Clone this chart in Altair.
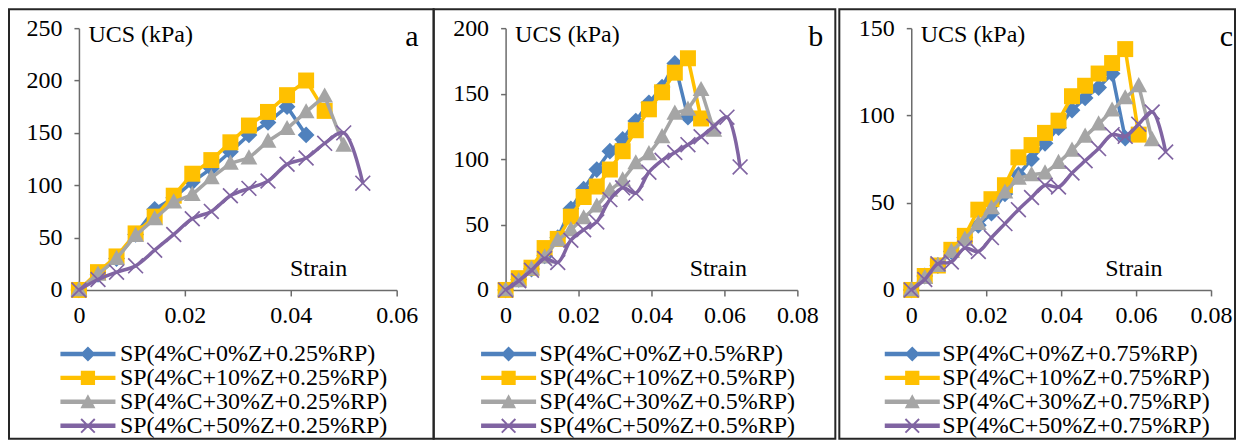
import json
import altair as alt
import pandas as pd

FONT = "Liberation Serif"
COLORS = ["#4F81BD", "#FFC000", "#A5A5A5", "#8064A2"]
MARKERS = ["diamond", "square", "triangle", "cross"]
AXIS_COLOR = "#6b6b6b"

# shared strain steps (x values)
STRAIN = [0, 0.0036, 0.0071, 0.0107, 0.0143, 0.0179, 0.0214, 0.025, 0.0286, 0.0321,
          0.0357, 0.0393, 0.0429, 0.0464, 0.05, 0.0536, 0.0571, 0.0607, 0.0643, 0.0679]

# panel a (0.25 % RP)
A_LABELS = ["SP(4%C+0%Z+0.25%RP)", "SP(4%C+10%Z+0.25%RP)",
            "SP(4%C+30%Z+0.25%RP)", "SP(4%C+50%Z+0.25%RP)"]
A_BLUE = [0, 15, 30, 53, 77, 88, 103, 116, 132, 148, 160, 175, 148]
A_YELLOW = [0, 17, 32, 54, 70, 90, 111, 124, 141, 157, 170, 186, 200, 171]
A_GRAY = [0, 15, 30, 52, 68, 84, 91, 107, 121, 126, 142, 154, 170, 185, 138]
A_PURPLE = [0, 10, 17, 23, 38, 53, 68, 75, 90, 97, 104, 120, 126, 140, 150, 102]

# panel b (0.5 % RP)
B_LABELS = ["SP(4%C+0%Z+0.5%RP)", "SP(4%C+10%Z+0.5%RP)",
            "SP(4%C+30%Z+0.5%RP)", "SP(4%C+50%Z+0.5%RP)"]
B_BLUE = [0, 8, 16, 26, 40, 62, 77, 92, 106, 115, 129, 143, 155, 173, 132]
B_YELLOW = [0, 9, 17, 32, 39, 56, 71, 79, 92, 106, 122, 138, 151, 166, 177, 131]
B_GRAY = [0, 7, 16, 25, 38, 46, 55, 64, 76, 84, 97, 104, 117, 135, 138, 153, 122]
B_PURPLE = [0, 7, 15, 24, 21, 38, 46, 52, 69, 78, 74, 90, 99, 105, 111, 117, 125, 132, 94]

# panel c (0.75 % RP)
C_LABELS = ["SP(4%C+0%Z+0.75%RP)", "SP(4%C+10%Z+0.75%RP)",
            "SP(4%C+30%Z+0.75%RP)", "SP(4%C+50%Z+0.75%RP)"]
C_BLUE = [0, 8, 14, 22, 30, 37, 44, 55, 66, 75, 84, 93, 103, 110, 116, 124, 87]
C_YELLOW = [0, 8, 14, 23, 31, 46, 52, 60, 76, 83, 90, 97, 111, 117, 124, 130, 138, 89]
C_GRAY = [0, 7, 14, 22, 29, 38, 47, 56, 64, 66, 67, 73, 80, 88, 95, 103, 110, 117, 86]
C_PURPLE = [0, 6, 15, 16, 24, 22, 30, 38, 46, 53, 60, 59, 67, 74, 81, 89, 88, 95, 102, 79]

# marker shapes (plot)
PT_PATHS = [
    "M-1.05,0L0,-1.05L1.05,0L0,1.05Z",
    "M-1,-1L1,-1L1,1L-1,1Z",
    "M0,-1.1L1.05,0.8L-1.05,0.8Z",
    "M-1,-0.85L-0.85,-1L1,0.85L0.85,1Z M-1,0.85L0.85,-1L1,-0.85L-0.85,1Z",
]
# legend symbols: line + marker
LG_PATHS = [
    "M-3.67,-0.3L-0.7,-0.3L0,-1L0.7,-0.3L3.67,-0.3L3.67,0.3L0.7,0.3L0,1L-0.7,0.3L-3.67,0.3Z",
    "M-3.67,-0.3L-0.95,-0.3L-0.95,-0.95L0.95,-0.95L0.95,-0.3L3.67,-0.3L3.67,0.3L0.95,0.3L0.95,0.95L-0.95,0.95L-0.95,0.3L-3.67,0.3Z",
    "M-3.67,-0.3L-0.378,-0.3L0,-1L0.378,-0.3L3.67,-0.3L3.67,0.3L0.703,0.3L1,0.85L-1,0.85L-0.703,0.3L-3.67,0.3Z",
    "M-3.67,-0.3L3.67,-0.3L3.67,0.3L-3.67,0.3Z M-1,-0.82L-0.82,-1L1,0.82L0.82,1Z M-1,0.82L0.82,-1L1,-0.82L-0.82,1Z",
]

H = 430


def panel(labels, series, width, xdom, xticks, xrange, ydom, yticks, letter, letter_x,
          strain_x, legend_x, label_off):
    rows = []
    for lab, mk, vals in zip(labels, MARKERS, series):
        for i, v in enumerate(vals):
            rows.append({"strain": STRAIN[i], "ucs": v, "series": lab, "marker": mk})
    df = pd.DataFrame(rows)
    base = alt.Chart(df)

    lab_js = json.dumps(labels)
    sig_shape = json.dumps(LG_PATHS) + "[indexof(" + lab_js + ", datum.value)]"

    legend = alt.Legend(
        title=None, orient="none", legendX=legend_x, legendY=333, direction="vertical",
        symbolSize=225, symbolOffset=0, labelOffset=label_off, labelFont=FONT,
        labelFontSize=24, labelColor="black", labelLimit=600, rowPadding=0, padding=0,
        symbolType={"expr": sig_shape}, symbolStrokeWidth=0, symbolOpacity=1,
    )
    x_axis = alt.Axis(
        values=xticks, format="~g", offset=-(H - 281), grid=False,
        domainColor=AXIS_COLOR, tickColor=AXIS_COLOR, domainWidth=1.5, tickWidth=1.5,
        tickSize=6, labelFont=FONT, labelFontSize=24, labelColor="black",
        labelPadding=8, labelFlush=False, labelOverlap=False,
        title="Strain", titleFont=FONT, titleFontSize=24, titleFontWeight="normal",
        titleColor="black", titleX=strain_x, titleY=-21, titleAlign="right",
        titleBaseline="middle",
    )
    y_axis = alt.Axis(
        values=yticks, offset=-xrange[0], grid=False,
        domainColor=AXIS_COLOR, tickColor=AXIS_COLOR, domainWidth=1.5, tickWidth=1.5,
        tickSize=5, labelFont=FONT, labelFontSize=24, labelColor="black",
        labelPadding=12, labelFlush=False, labelOverlap=False,
        title="UCS (kPa)", titleFont=FONT, titleFontSize=24, titleFontWeight="normal",
        titleColor="black", titleAngle=0, titleX=9, titleY=25, titleAlign="left",
        titleBaseline="middle",
    )
    xenc = alt.X("strain:Q", axis=x_axis,
                 scale=alt.Scale(domain=xdom, range=xrange, nice=False, zero=False))
    yenc = alt.Y("ucs:Q", axis=y_axis,
                 scale=alt.Scale(domain=ydom, range=[281, 281 - 262], nice=False, zero=False))
    color = alt.Color("series:N", scale=alt.Scale(domain=labels, range=COLORS), legend=legend)
    shape = alt.Shape("marker:N", scale=alt.Scale(domain=MARKERS, range=PT_PATHS), legend=None)

    layers = []
    for k, lab in enumerate(labels):
        f = base.transform_filter(alt.datum.series == lab)
        line = f.mark_line(strokeWidth=3.5,
                           interpolate="catmull-rom" if k == 3 else "linear").encode(
            x=xenc, y=yenc, color=color)
        pts = f.mark_point(filled=True, size=256, opacity=1, strokeWidth=0).encode(
            x=xenc, y=yenc, color=color, shape=shape)
        layers += [line, pts]
    tag = alt.Chart(pd.DataFrame({"tag": [letter]})).mark_text(
        font=FONT, fontSize=30, color="black", align="right", baseline="alphabetic"
    ).encode(text="tag:N", x=alt.value(letter_x), y=alt.value(37))
    layers.append(tag)
    return alt.layer(*layers).properties(width=width, height=H)


pa = panel(A_LABELS, [A_BLUE, A_YELLOW, A_GRAY, A_PURPLE], 425, [0, 0.06],
           [0, 0.02, 0.04, 0.06], [70, 388], [0, 250], [0, 50, 100, 150, 200, 250],
           "a", 410, 338, 67, 20)
pb = panel(B_LABELS, [B_BLUE, B_YELLOW, B_GRAY, B_PURPLE], 402, [0, 0.08],
           [0, 0.02, 0.04, 0.06, 0.08], [72, 364], [0, 200], [0, 50, 100, 150, 200],
           "b", 390, 313, 63, 19)
pc = panel(C_LABELS, [C_BLUE, C_YELLOW, C_GRAY, C_PURPLE], 396, [0, 0.08],
           [0, 0.02, 0.04, 0.06, 0.08], [72, 372], [0, 150], [0, 50, 100, 150],
           "c", 394, 323, 61, 18)

left = alt.hconcat(pa, pb, spacing=0, bounds="flush").resolve_scale(color="independent")
chart = alt.hconcat(left, pc, spacing=2, bounds="full").resolve_scale(
    color="independent"
).properties(padding=0, background="white").configure_view(stroke="#262626", strokeWidth=2)

chart.save("out.html", embed_options={"renderer": "svg", "actions": False})
